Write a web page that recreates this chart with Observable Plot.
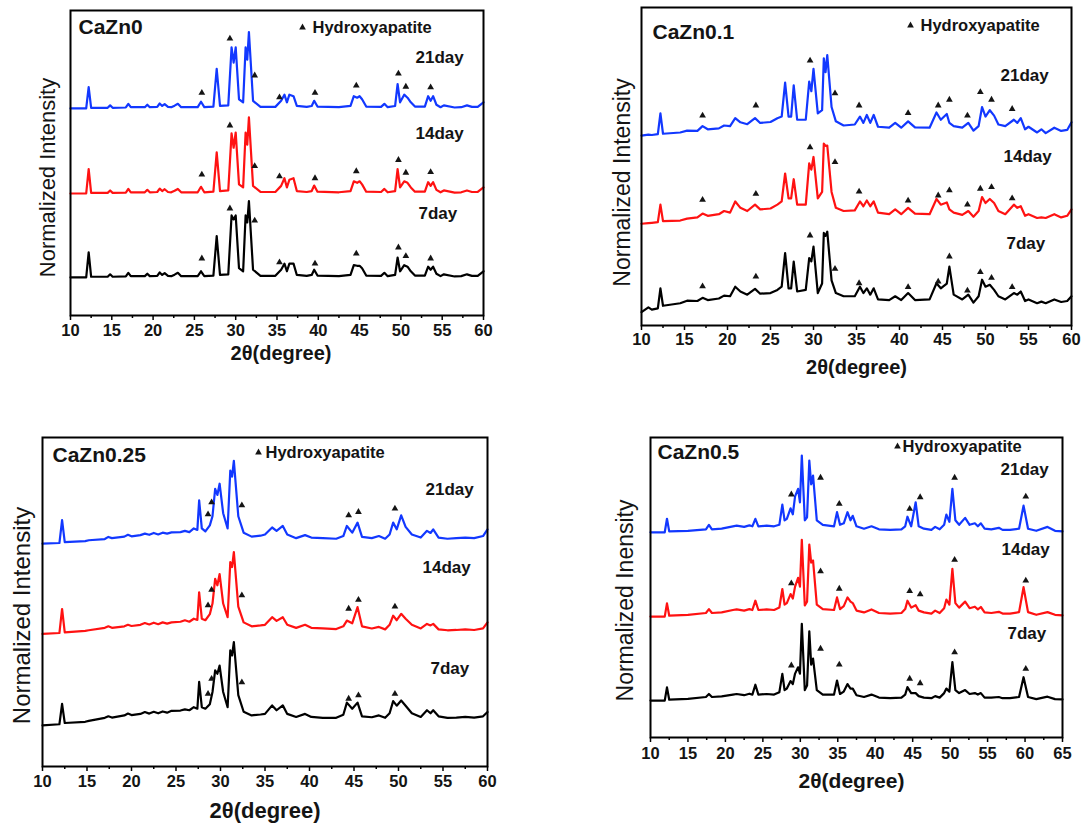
<!DOCTYPE html>
<html><head><meta charset="utf-8">
<script src="https://cdn.jsdelivr.net/npm/d3@7"></script>
<script src="https://cdn.jsdelivr.net/npm/@observablehq/plot@0.6"></script>
<style>
body{margin:0;background:#fff;}
#wrap{position:relative;width:1083px;height:828px;background:#fff;overflow:hidden;font-family:"Liberation Sans",Arial,sans-serif;}
.pn{position:absolute;}
g[aria-label="x-axis tick label"]{font-weight:bold;}
</style></head><body><div id="wrap"></div>
<script>
// ---------- DATA (2θ positions, intensity above each trace's baseline) ----------
const seriesNames = ["21day", "14day", "7day"];
const seriesColors = ["#1238ff", "#ff1212", "#000000"];

// CaZn0
const cz0X = [10,11.9,12.2,12.5,14.5,14.8,15.1,16.7,17.0,17.3,19.0,19.3,19.6,20.5,20.8,21.1,21.4,21.8,22.2,22.6,23.0,23.4,25.4,25.8,26.2,27.3,27.7,28.1,29.1,29.5,29.75,30.0,30.4,30.9,31.2,31.4,31.6,32.1,33.0,34.8,35.5,35.9,36.2,36.5,37.0,37.4,38.6,39.2,39.5,39.9,42.5,43.9,44.3,44.7,45.0,45.3,45.8,47.6,48.0,48.4,49.3,49.6,49.9,50.4,50.8,51.2,51.7,52.9,53.3,53.6,53.9,54.3,54.8,55.2,56.5,57.3,58.0,58.6,59.3,60];
const cz0Day21 = [0,0,7,0.2,0.2,1,0.2,0.3,1.5,0.4, 0.4,1.2,0.4,0.5,1.6,0.8,1.4,0.5,0.4,0.9, 1.5,0.4,0.4,2.2,0.4,0.6,13,0.8,1,20, 15,20,3,2,20,16,25,2.5,0.5,0.5, 2.5,4.5,2,4.5,4,0.8,0.5,0.8,2.5,0.6, 0.4,0.8,4,3.5,4,3,0.6,0.5,1.5,0.4, 0.8,8,2,4.5,3.5,2,0.6,0.6,4,2.5, 4,1.2,0.4,1,0.3,0.4,1,0.5,0.5,2];
const cz0Day14 = [0,0,8,0.2,0.2,1,0.2,0.3,1.5,0.4, 0.4,1.2,0.4,0.5,1.6,0.8,1.4,0.5,0.4,0.9, 1.5,0.4,0.4,2.2,0.4,0.6,13.5,0.8,1,19.7, 15,20,3,2,20,16,25,2.5,0.5,0.5, 2.5,5,2,4.5,5,0.8,0.5,0.8,2.6,0.6, 0.4,0.8,4,3.5,4,3,0.6,0.5,1.5,0.4, 0.8,8,2,4,3.5,2,0.6,0.6,3.7,2.5, 3.7,1.2,0.4,1,0.3,0.4,1,0.5,0.5,2];
const cz0Day7 = [0,0,8.2,0.2,0.2,1,0.2,0.3,1.5,0.4, 0.4,1.2,0.4,0.5,1.6,0.8,1.4,0.5,0.4,0.9, 1.5,0.4,0.4,2,0.4,0.6,13.5,0.8,1,20.3, 19,20.3,3,2,20.3,18,25,2.5,0.5,0.5, 2.5,4.5,2,4.5,4.5,0.8,0.5,0.8,2.5,0.6, 0.4,0.8,4,3.8,3.8,3,0.6,0.5,1.5,0.4, 0.8,6.5,2,4,3.5,2,0.6,0.6,3.5,2.5, 3.5,1.2,0.4,1,0.3,0.4,1,0.5,0.5,2];
const cz0Offsets = [67.9, 40, 12.5];
const cz0TriX = [25.9, 29.3, 32.3, 35.3, 39.6, 44.6, 49.7, 50.6, 53.6];
const cz0TriY21 = [73, 90.8, 78.7, 71.5, 73, 75.4, 79.3, 75, 74.8];
const cz0TriY14 = [46.2, 62.3, 49, 45.6, 45, 47.3, 51, 46.8, 47];
const cz0TriY7 = [18.7, 35.1, 31.1, 17.4, 17, 20.3, 22.3, 19.5, 18.7];

// CaZn0.1
const cz01X = [10,10.8,11.2,11.9,12.2,12.5,14.5,15.3,16.5,17.1,17.7,19.0,19.6,20.3,20.9,21.5,22.3,23.2,23.8,25.0,25.8,26.3,26.7,27.1,27.4,27.7,28.1,29.1,29.5,29.75,30.0,30.5,31.0,31.2,31.4,31.6,32.1,32.6,33.5,34.8,35.4,35.8,36.2,36.6,37.0,37.5,38.8,39.5,40.2,41.0,41.8,43.5,44.3,44.8,45.5,45.8,46.3,47.3,48.0,48.6,49.2,49.6,50.0,50.5,51.0,51.5,52.3,53.3,53.7,54.1,54.6,55.0,56.0,56.5,57.0,58.0,58.8,59.5,60];
const cz01Day21 = [0,0.3,0.2,0.5,7,0.6,1,1.6,1.5,3, 2,2.3,3.2,3,5.5,4.2,3.6,5.5,4,4.3, 5.5,6,16.7,6,6,15.8,5,5,17,14, 21,7,8,24.3,20,25.3,9,4.5,3.2,3.5, 6,4,6.5,4,6.5,2.8,2.5,4,2.5,4.5, 2.6,2.5,7.3,5,6.8,4,3,2.5,4,1.6, 3,9,6,8,6.3,3.5,3,5,4,5.5, 2,2.8,1,2,0.8,2.5,1.5,1.8,4.2];
const cz01Day14 = [0,0.2,0.3,0.5,6,0.8,1,1.6,2,3.2, 2.5,3,4,3.5,7,5,4,6,4.5,4.8, 6,7,15.8,8,8,14,6,6,19,17, 21,8,10,25.2,24.5,24.6,10,5,4,4.2, 7,5.5,7.3,5.5,7,3.5,3,4.5,3,5, 3.2,3,7.8,6,6.7,4.5,3.5,2.8,4,2.2, 4,8.4,6.5,7.8,6.5,4,3,6,5,5.5, 2.5,3,1.8,2,1.8,3,2,2.5,4.5];
const cz01Day7 = [0,1.5,0.8,1.2,7.5,2,2.8,3.6,3.5,4.5, 3.8,4.3,5.2,5,8,6.5,5.5,7.3,5.8,6, 7,8,18.6,7.5,7.5,15.9,6.5,7,17,16, 20.6,6,9,24.9,24,25.3,10,6,5,5, 8,6,7.5,5.5,7.5,4,3.8,5,3.8,6, 3.8,4,9.1,7.5,9,14.3,5.5,4,5.5,3, 5,10.2,8,8.6,7,5,4,6,5.5,6.5, 3.5,4,2.8,3.3,2.8,4,3.2,3.5,5];
const cz01Offsets = [59.7, 32, 4.2];
const cz01TriX = [17.1, 23.3, 29.6, 32.5, 35.3, 41.0, 44.5, 45.8, 47.9, 49.4, 50.7, 53.1];
const cz01TriY21 = [66, 69.2, 83.3, 73, 69.2, 66.8, 69.2, 71, 66, 73.4, 71, 68.1];
const cz01TriY14 = [39.5, 41.4, 56, 51.4, 42.1, 39.3, 40.9, 42.5, 38, 43, 43.5, 40];
const cz01TriY7 = [12.3, 15.4, 28.3, 17.8, 13.3, 12.1, 13.8, 21.7, 11, 16.8, 15, 12.1];

// CaZn0.25
const cz025X = [10,11.9,12.2,12.5,14.8,15.2,17.0,17.4,17.8,19.2,19.6,20.0,21.0,21.5,22.0,22.5,23.0,23.5,24.0,24.5,25.5,26.0,26.5,27.0,27.4,27.6,27.9,28.3,28.8,29.1,29.4,29.65,29.9,30.3,30.8,31.1,31.3,31.5,32.0,32.6,33.5,34.5,35.0,35.8,36.3,37.0,37.5,38.5,39.5,40.2,41.5,43.0,43.8,44.2,44.8,45.4,45.9,47.0,47.8,48.5,49.0,49.4,49.8,50.3,50.8,51.5,52.5,53.2,53.6,53.9,54.5,55.5,56.5,57.5,58.5,59.5,60];
const cz025Day21 = [0,0.2,7.7,0.5,0.8,1.1,1.5,2.2,1.8,2.3, 2.9,2.4,2.8,3.3,2.9,3.5,3,3.6,3.3,3.7, 3.8,4.2,3.8,5,4.5,14.2,5,4,6,9, 18,16,19.7,10,5,24,22,27.2,9,3.6, 2.3,2.6,3,5.3,4.2,5.8,3,1.8,2.8,2, 1.8,1.6,2.5,5.8,3.6,6.9,2.2,1.8,2.5,1.6, 3,6.9,4.7,9.3,5.5,3,2,4.2,3.5,4.7, 2,1.6,1.8,2,1.8,2.5,4.7];
const cz025Day14 = [0,0.3,8.2,0.5,1,1.2,2,2.5,2,2.5, 3,2.6,3,3.6,3.1,3.7,3.2,3.8,3.4,3.8, 4,4.5,4,5,4.6,13.7,5,4.5,6.5,10, 18.1,16,19.7,10,5.5,23.6,22,26.9,9,3.8, 2.5,2.8,3,5.5,4.3,5.5,3,2,3,2, 1.8,1.6,2.5,4.4,3.5,8.8,2.5,1.8,2.3,1.5, 3,6,4.5,6.6,5,3,1.8,3.3,2.8,3.3, 1.5,1.2,1.3,1.5,1.3,1.8,3.8];
const cz025Day7 = [0,0.4,7.1,0.8,1.2,1.5,2.5,3,2.6,3.3, 3.9,3.4,3.8,4.4,3.9,4.5,4,4.6,4.2,4.8, 4.9,5.3,5,6,5.5,14.3,6,5.5,7,11, 18.1,17,19.7,11,6,24.7,23,27.4,10,4.5, 3.3,3.6,3.8,6.6,5,6.6,3.8,2.8,3.8,2.8, 2.5,2.5,3.5,7.5,5.5,7.5,3,2.7,3.3,2.5, 4,8,6.5,8.2,6.5,4,2.8,5,4,5, 3,2.5,2.6,2.8,2.6,3,4.4];
const cz025Offsets = [73.3, 43.6, 13.5];
const cz025TriX = [28.6, 29.0, 32.4, 44.4, 45.5, 49.6];
const cz025TriY21 = [82.9, 86.9, 85.9, 82.6, 83.7, 84.8];
const cz025TriY14 = [53, 58.1, 56.3, 51.9, 54.8, 52.6];
const cz025TriY7 = [23.9, 28.8, 27.7, 22.3, 23.4, 23.9];

// CaZn0.5
const cz05X = [10,11.9,12.2,12.5,15.0,17.4,17.8,18.2,19.5,21.0,21.5,22.5,23.2,23.6,24.0,24.4,25.5,26.5,27.2,27.6,27.9,28.2,28.7,29.0,29.3,29.7,29.95,30.2,30.6,30.9,31.2,31.45,31.7,32.2,33.0,34.5,34.9,35.3,35.8,36.3,36.7,37.0,37.5,38.5,39.5,40.5,42.0,43.5,44.0,44.3,44.8,45.4,45.8,46.5,47.5,48.0,48.6,49.2,49.5,49.9,50.3,50.7,51.2,52.0,52.6,53.3,53.7,54.1,54.6,55.5,56.5,57.0,58.0,59.2,59.8,60.4,61.5,63.0,64.0,65];
const cz05Day21 = [0,0,4.5,0.3,0.5,1,2.5,1,1.2,2, 2.2,1.8,2.3,2,4.5,2,2.2,2,2.5,9.2, 4,4.5,8,6,12,14.5,10,25.6,4,5, 23.9,16,18.9,4,2.5,2,6.7,2.5,3,6.7, 4,5.5,2,1.2,2,1,0.8,1,2,5.2, 2,10,2,1.2,0.8,1.8,1,2.5,5.9,3.5, 14.5,4,2.5,4.8,2.5,3,2,3,1.2,1, 1.5,0.8,0.8,1.2,8.9,1.2,0.5,1.8,0.5,0.3];
const cz05Day14 = [0,0,4.4,0.3,0.6,1.2,2.5,1.2,1.4,2.2, 2.4,2,2.5,2.2,5.3,2.2,2.4,2.2,3,9.2, 4,4.5,7.5,6,10,12.9,10,25.6,3.7,5, 24,18,18.7,4,2.5,2.2,6.4,2.5,3.5,6.4, 5,4.5,2,1.4,2.4,1.2,1,1.2,2.5,5.3, 3,3.8,2,1.4,1,2,1.2,2.8,5.7,4, 15.9,4.5,3,5,2.8,3.3,2.4,3.2,1.4,1.2, 1.6,1,1,1.5,9.8,1.5,0.6,1.5,0.6,0.4];
const cz05Day7 = [0,0,4.4,0.3,0.6,1.2,2.2,1.2,1.4,2, 2.2,1.8,2.3,2,5.3,2,2.2,2,2.8,8.9, 3.5,4,6.5,5.5,9,11.1,9,25.6,3.5,5, 23.1,12,14,3.5,2,2,6.7,2.2,3,5.5, 4,4,1.8,1.2,2,1,0.8,1,2,4.5, 2.5,2.5,1.5,1,0.8,1.5,1,2.5,4,3, 12.8,3.5,2.5,3.5,2.2,2.5,2,2.5,1,1, 1.2,0.8,0.8,1.2,7.8,1.2,0.5,1.3,0.5,0.4];
const cz05Offsets = [68.4, 40.3, 12.3];
const cz05TriX = [28.8, 32.7, 35.2, 44.6, 46.0, 50.6, 60.1];
const cz05TriY21 = [81, 86.6, 77.9, 76.2, 80.1, 86.6, 80.3];
const cz05TriY14 = [51.4, 55.4, 49.6, 48.8, 47.7, 59.2, 52.3];
const cz05TriY7 = [24, 29.6, 24.3, 19.6, 18.1, 28.4, 22.9];

const panelTitles = ["CaZn0", "CaZn0.1", "CaZn0.25", "CaZn0.5"];
const yLabels = ["Normalized Intensity", "Normalized Intensity", "Normalized Intensity", "Normalized Inensity"];
const xLabel = "2θ(degree)";
const legendLabel = "Hydroxyapatite";

const panels = [
  {x: cz0X, series: [cz0Day21, cz0Day14, cz0Day7], offsets: cz0Offsets, triX: cz0TriX, triY: [cz0TriY21, cz0TriY14, cz0TriY7], xMax: 60, yMax: 100},
  {x: cz01X, series: [cz01Day21, cz01Day14, cz01Day7], offsets: cz01Offsets, triX: cz01TriX, triY: [cz01TriY21, cz01TriY14, cz01TriY7], xMax: 60, yMax: 100},
  {x: cz025X, series: [cz025Day21, cz025Day14, cz025Day7], offsets: cz025Offsets, triX: cz025TriX, triY: [cz025TriY21, cz025TriY14, cz025TriY7], xMax: 60, yMax: 108.2},
  {x: cz05X, series: [cz05Day21, cz05Day14, cz05Day7], offsets: cz05Offsets, triX: cz05TriX, triY: [cz05TriY21, cz05TriY14, cz05TriY7], xMax: 65, yMax: 100}
];

// ---------- LAYOUT ----------
const layout = [
  {left: 0, top: 0, width: 500, height: 370, m: {top: 10, right: 17, bottom: 55, left: 70}, tickPad: 4,
   title: [8, 17], legend: [232, 17, 242], days: [[345, 47], [345, 123], [348, 203]], ylab: [-23, 14.5, 22], xlab: [4, 38, 20]},
  {left: 560, top: 0, width: 523, height: 385, m: {top: 7, right: 12, bottom: 60, left: 81}, tickPad: 3,
   title: [11, 25], legend: [269, 18, 279], days: [[359, 68], [362, 149], [365, 236]], ylab: [-19, 16, 23], xlab: [0, 42, 20]},
  {left: 0, top: 425, width: 500, height: 403, m: {top: 12, right: 13, bottom: 62, left: 42}, tickPad: 4,
   title: [10, 18], legend: [216, 15, 223], days: [[383, 52], [380, 130], [388, 231]], ylab: [-20, 13.5, 24], xlab: [0, 44, 22]},
  {left: 560, top: 425, width: 523, height: 403, m: {top: 12, right: 21, bottom: 91, left: 90}, tickPad: 5,
   title: [7, 15], legend: [247, 9, 252], days: [[350, 32], [351, 112], [357, 196]], ylab: [-25, 13, 23], xlab: [-5, 44, 21]}
];

const wrap = document.getElementById("wrap");
const font = '"Liberation Sans", Arial, Helvetica, sans-serif';
const ink = "#141414";

panels.forEach((P, pi) => {
  const L = layout[pi];
  const marks = [];
  P.series.forEach((vals, k) => {
    const rows = P.x.map((x, i) => ({x, y: vals[i] + P.offsets[k]}));
    marks.push(Plot.line(rows, {x: "x", y: "y", stroke: seriesColors[k], strokeWidth: 2.2, strokeLinejoin: "round"}));
    const tri = P.triX.map((x, i) => ({x, y: P.triY[k][i]}));
    marks.push(Plot.dot(tri, {x: "x", y: "y", symbol: "triangle", r: 2.5, fill: ink, stroke: "none"}));
  });
  const major = d3.range(10, P.xMax + 0.1, 5);
  const minor = d3.range(12.5, P.xMax, 5);
  marks.push(Plot.axisX({ticks: minor, tickSize: 3, tickFormat: () => "", label: null, strokeWidth: 1.5}));
  marks.push(Plot.axisX({ticks: major, tickSize: 5, tickPadding: L.tickPad, tickFormat: d3.format("d"), label: null, fontSize: 16.5, fontWeight: "bold", strokeWidth: 1.5, fill: ink}));
  marks.push(Plot.frame({stroke: "#000", strokeWidth: 2}));
  const txt = {text: d => d, lineAnchor: "middle", fill: ink};
  // title
  marks.push(Plot.text([panelTitles[pi]], {...txt, frameAnchor: "top-left", textAnchor: "start", dx: L.title[0], dy: L.title[1], fontSize: 21, fontWeight: "bold"}));
  // legend
  marks.push(Plot.dot([legendLabel], {frameAnchor: "top-left", dx: L.legend[0], dy: L.legend[1], symbol: "triangle", r: 2.5, fill: ink}));
  marks.push(Plot.text([legendLabel], {...txt, frameAnchor: "top-left", textAnchor: "start", dx: L.legend[2], dy: L.legend[1], fontSize: 16.5, fontWeight: "bold"}));
  // day labels
  seriesNames.forEach((nm, k) => {
    marks.push(Plot.text([nm], {...txt, frameAnchor: "top-left", textAnchor: "start", dx: L.days[k][0], dy: L.days[k][1], fontSize: 17, fontWeight: "bold"}));
  });
  // y label
  marks.push(Plot.text([yLabels[pi]], {...txt, frameAnchor: "left", textAnchor: "middle", rotate: -90, dx: L.ylab[0], dy: L.ylab[1], fontSize: L.ylab[2]}));
  // x label
  marks.push(Plot.text([xLabel], {...txt, frameAnchor: "bottom", textAnchor: "middle", dx: L.xlab[0], dy: L.xlab[1], fontSize: L.xlab[2], fontWeight: "bold"}));

  const svg = Plot.plot({
    width: L.width,
    height: L.height,
    marginTop: L.m.top, marginRight: L.m.right, marginBottom: L.m.bottom, marginLeft: L.m.left,
    x: {domain: [10, P.xMax]},
    y: {domain: [0, P.yMax], axis: null},
    style: {background: "transparent", fontFamily: font, overflow: "visible"},
    marks
  });
  const div = document.createElement("div");
  div.className = "pn";
  div.style.left = L.left + "px";
  div.style.top = L.top + "px";
  div.appendChild(svg);
  wrap.appendChild(div);
});
</script></body></html>
